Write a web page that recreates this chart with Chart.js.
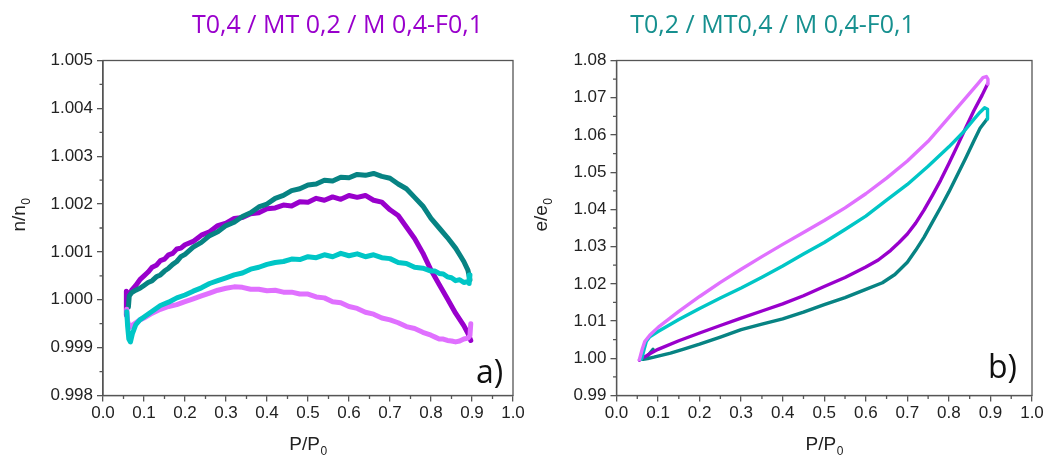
<!DOCTYPE html>
<html><head><meta charset="utf-8">
<script src="https://cdn.jsdelivr.net/npm/chart.js@4.4.1/dist/chart.umd.min.js"></script>
<style>
html,body{margin:0;padding:0;background:#fff;width:1048px;height:457px;overflow:hidden}
.panel{position:absolute;top:0;height:457px}
canvas{display:block}
</style></head><body>
<div class="panel" style="left:0;width:530px"><canvas id="c1" width="530" height="457"></canvas></div>
<div class="panel" style="left:530px;width:518px"><canvas id="c2" width="518" height="457"></canvas></div>
<script>
// ---------- titles / labels ----------
const titles = ['T0,4 / MT 0,2 / M 0,4-F0,1', 'T0,2 / MT0,4 / M 0,4-F0,1'];
const panelLabels = ['a)', 'b)'];
const xAxisTitle = ['P/P', '0'];
const yAxisTitles = [['n/n', '0'], ['e/e', '0']];
const xTickValues = [0.0, 0.1, 0.2, 0.3, 0.4, 0.5, 0.6, 0.7, 0.8, 0.9, 1.0];
const leftYTicks = [0.998, 0.999, 1.000, 1.001, 1.002, 1.003, 1.004, 1.005];
const rightYTicks = [0.99, 1.00, 1.01, 1.02, 1.03, 1.04, 1.05, 1.06, 1.07, 1.08];

// ---------- panel a) n/n0 ----------
const leftPurpleX = [0.057,0.057,0.060,0.065,0.070,0.080,0.090,0.100,0.110,0.120,0.130,0.140,0.150,0.160,0.170,0.180,0.190,0.200,0.220,0.240,0.260,0.280,0.300,0.320,0.340,0.360,0.380,0.400,0.420,0.440,0.460,0.480,0.500,0.520,0.540,0.560,0.580,0.600,0.620,0.640,0.660,0.680,0.700,0.720,0.740,0.760,0.780,0.800,0.820,0.840,0.860,0.880,0.890,0.897];
const leftPurpleY = [0.99968,1.00018,1.00005,1.00012,1.00020,1.00030,1.00042,1.00050,1.00058,1.00068,1.00072,1.00082,1.00085,1.00094,1.00097,1.00106,1.00108,1.00115,1.00122,1.00135,1.00142,1.00155,1.00160,1.00170,1.00172,1.00180,1.00182,1.00190,1.00192,1.00198,1.00196,1.00205,1.00204,1.00212,1.00208,1.00215,1.00210,1.00218,1.00214,1.00218,1.00208,1.00204,1.00188,1.00176,1.00152,1.00128,1.00098,1.00062,1.00032,1.00002,0.99972,0.99946,0.99930,0.99915];

const leftTealX = [0.062,0.064,0.070,0.080,0.090,0.100,0.110,0.120,0.130,0.140,0.150,0.160,0.170,0.180,0.190,0.200,0.220,0.240,0.260,0.280,0.300,0.320,0.340,0.360,0.380,0.400,0.420,0.440,0.460,0.480,0.500,0.520,0.540,0.560,0.580,0.600,0.620,0.640,0.660,0.680,0.700,0.720,0.740,0.760,0.780,0.800,0.820,0.840,0.860,0.870,0.880,0.890,0.895];
const leftTealY = [0.99985,1.00008,1.00015,1.00020,1.00024,1.00030,1.00036,1.00040,1.00048,1.00052,1.00060,1.00066,1.00074,1.00080,1.00090,1.00095,1.00110,1.00120,1.00134,1.00142,1.00155,1.00162,1.00174,1.00182,1.00194,1.00200,1.00212,1.00218,1.00228,1.00232,1.00240,1.00242,1.00250,1.00248,1.00256,1.00255,1.00262,1.00260,1.00264,1.00258,1.00254,1.00242,1.00232,1.00214,1.00196,1.00170,1.00150,1.00130,1.00108,1.00094,1.00080,1.00062,1.00042];

const leftCyanX = [0.895,0.893,0.890,0.880,0.870,0.860,0.850,0.840,0.830,0.820,0.810,0.800,0.780,0.760,0.740,0.720,0.700,0.680,0.660,0.640,0.620,0.600,0.580,0.560,0.540,0.520,0.500,0.480,0.460,0.440,0.420,0.400,0.380,0.360,0.340,0.320,0.300,0.280,0.260,0.240,0.220,0.200,0.180,0.160,0.140,0.120,0.100,0.090,0.080,0.072,0.067,0.063,0.060,0.058];
const leftCyanY = [1.00052,1.00034,1.00038,1.00036,1.00042,1.00040,1.00046,1.00048,1.00054,1.00055,1.00060,1.00060,1.00066,1.00068,1.00076,1.00078,1.00086,1.00088,1.00094,1.00090,1.00096,1.00092,1.00097,1.00090,1.00094,1.00088,1.00090,1.00084,1.00085,1.00080,1.00078,1.00074,1.00068,1.00064,1.00056,1.00052,1.00046,1.00040,1.00034,1.00025,1.00018,1.00010,1.00004,0.99995,0.99988,0.99976,0.99964,0.99958,0.99948,0.99930,0.99912,0.99918,0.99945,0.99975];

const leftVioletX = [0.897,0.895,0.890,0.880,0.870,0.860,0.850,0.840,0.830,0.820,0.810,0.800,0.780,0.760,0.740,0.720,0.700,0.680,0.660,0.640,0.620,0.600,0.580,0.560,0.540,0.520,0.500,0.480,0.460,0.440,0.420,0.400,0.380,0.360,0.340,0.320,0.300,0.280,0.260,0.240,0.220,0.200,0.180,0.160,0.140,0.120,0.100,0.090,0.080,0.070,0.065,0.060,0.058];
const leftVioletY = [0.99950,0.99925,0.99920,0.99918,0.99914,0.99912,0.99914,0.99915,0.99918,0.99918,0.99922,0.99926,0.99932,0.99940,0.99944,0.99952,0.99958,0.99962,0.99970,0.99974,0.99982,0.99986,0.99994,0.99996,1.00004,1.00006,1.00012,1.00012,1.00016,1.00016,1.00020,1.00019,1.00022,1.00022,1.00026,1.00027,1.00024,1.00020,1.00014,1.00008,1.00002,0.99996,0.99990,0.99986,0.99980,0.99972,0.99962,0.99958,0.99952,0.99946,0.99942,0.99955,0.99980];

// ---------- panel b) e/e0 ----------
const rightPurpleX = [0.055,0.060,0.070,0.080,0.100,0.150,0.200,0.250,0.300,0.350,0.400,0.450,0.500,0.550,0.600,0.630,0.660,0.680,0.700,0.720,0.740,0.760,0.780,0.800,0.820,0.840,0.860,0.880,0.893];
const rightPurpleY = [0.9995,1.0000,1.0005,1.0012,1.0024,1.0047,1.0068,1.0088,1.0108,1.0127,1.0146,1.0168,1.0193,1.0217,1.0245,1.0264,1.0290,1.0311,1.0334,1.0363,1.0398,1.0437,1.0478,1.0523,1.0570,1.0618,1.0665,1.0707,1.0737];

const rightVioletX = [0.893,0.894,0.890,0.882,0.870,0.840,0.800,0.750,0.700,0.650,0.600,0.550,0.500,0.450,0.400,0.350,0.300,0.250,0.200,0.150,0.100,0.080,0.068,0.062,0.058,0.055];
const rightVioletY = [1.0737,1.0750,1.0757,1.0754,1.0738,1.0699,1.0647,1.0583,1.0530,1.0484,1.0442,1.0404,1.0370,1.0338,1.0306,1.0273,1.0239,1.0204,1.0166,1.0126,1.0083,1.0062,1.0045,1.0025,1.0008,0.9996];

const rightTealX = [0.088,0.080,0.072,0.064,0.075,0.090,0.100,0.130,0.160,0.200,0.250,0.300,0.350,0.400,0.450,0.500,0.550,0.600,0.640,0.670,0.700,0.720,0.740,0.760,0.780,0.800,0.820,0.840,0.860,0.875,0.892];
const rightTealY = [1.0024,1.0013,1.0004,0.9997,0.9999,1.0003,1.0006,1.0014,1.0024,1.0038,1.0057,1.0077,1.0092,1.0106,1.0124,1.0144,1.0163,1.0185,1.0203,1.0225,1.0258,1.0290,1.0325,1.0365,1.0405,1.0447,1.0492,1.0537,1.0584,1.0618,1.0643];

const rightCyanX = [0.892,0.894,0.892,0.886,0.875,0.860,0.835,0.800,0.750,0.700,0.650,0.600,0.550,0.500,0.450,0.400,0.350,0.300,0.250,0.200,0.150,0.100,0.080,0.072,0.066,0.062,0.060];
const rightCyanY = [1.0643,1.0658,1.0669,1.0673,1.0661,1.0642,1.0608,1.0568,1.0516,1.0467,1.0425,1.0382,1.0346,1.0311,1.0280,1.0248,1.0218,1.0189,1.0162,1.0134,1.0104,1.0072,1.0058,1.0046,1.0022,1.0004,0.9998];

// ---------- styling ----------
const PURPLE = '#9900CC', TEAL = '#078383', CYAN = '#00C6C6', VIOLET = '#E070FF';
const AXIS = '#555555';
const TICKFONT = '"Liberation Sans", Arial, sans-serif';

function pts(xs, ys) { return xs.map((x, i) => ({ x: x, y: ys[i] })); }
function ds(xs, ys, color, w) {
  return { data: pts(xs, ys), borderColor: color, backgroundColor: color, borderWidth: w,
    pointRadius: 0, tension: 0, fill: false, borderJoinStyle: 'round', borderCapStyle: 'round' };
}

function drawSub(ctx, main, sub, cx, baseY, fs, ss) {
  ctx.font = fs + 'px ' + TICKFONT; const w1 = ctx.measureText(main).width;
  ctx.font = ss + 'px ' + TICKFONT; const w2 = ctx.measureText(sub).width;
  const x0 = cx - (w1 + w2) / 2;
  ctx.textAlign = 'left'; ctx.textBaseline = 'alphabetic';
  ctx.font = fs + 'px ' + TICKFONT; ctx.fillText(main, x0, baseY);
  ctx.font = ss + 'px ' + TICKFONT; ctx.fillText(sub, x0 + w1 + 0.5, baseY + 5);
}

const decor = {
  id: 'decor',
  afterDraw(chart, args, o) {
    const ctx = chart.ctx, a = chart.chartArea, xs = chart.scales.x, ys = chart.scales.y;
    ctx.save();
    // frame
    ctx.strokeStyle = AXIS; ctx.lineWidth = 1.3;
    ctx.strokeRect(a.left, a.top, a.right - a.left, a.bottom - a.top);
    // minor ticks
    ctx.beginPath();
    for (let k = 0; k < o.xMajors.length - 1; k++) {
      const px = xs.getPixelForValue((o.xMajors[k] + o.xMajors[k + 1]) / 2);
      ctx.moveTo(px, a.bottom); ctx.lineTo(px, a.bottom + 3.5);
    }
    for (let k = 0; k < o.yMajors.length - 1; k++) {
      const py = ys.getPixelForValue((o.yMajors[k] + o.yMajors[k + 1]) / 2);
      ctx.moveTo(a.left, py); ctx.lineTo(a.left - 3.5, py);
    }
    ctx.stroke();
    // title
    ctx.fillStyle = o.titleColor; ctx.font = '25px "Open Sans", sans-serif';
    ctx.textAlign = 'center'; ctx.textBaseline = 'alphabetic';
    ctx.fillText(o.title, o.titleX, 33);
    // panel label
    ctx.fillStyle = '#111'; ctx.font = '32px "Open Sans", sans-serif'; ctx.textAlign = 'left';
    ctx.fillText(o.panel, o.panelX, o.panelY);
    // axis titles
    ctx.fillStyle = '#222';
    drawSub(ctx, xAxisTitle[0], xAxisTitle[1], (a.left + a.right) / 2, 450, 19, 12);
    ctx.translate(o.yTitleX, 215); ctx.rotate(-Math.PI / 2);
    drawSub(ctx, o.yTitle[0], o.yTitle[1], 0, 0, 19, 12);
    ctx.restore();
  }
};

function makeChart(id, datasets, yMin, yMax, yStep, yDec, yWidth, padRight, deco) {
  return new Chart(document.getElementById(id), {
    type: 'line',
    data: { datasets: datasets },
    plugins: [decor],
    options: {
      responsive: false, animation: false, devicePixelRatio: 1,
      layout: { padding: { left: 0, right: padRight, top: 60.5, bottom: 0 } },
      plugins: { legend: { display: false }, tooltip: { enabled: false }, title: { display: false }, decor: deco },
      scales: {
        x: {
          type: 'linear', min: 0, max: 1,
          afterBuildTicks: s => { s.ticks = xTickValues.map(v => ({ value: v })); },
          afterFit: s => { s.height = 457 - 395.5; },
          ticks: { callback: v => Number(v).toFixed(1), font: { family: TICKFONT, size: 17 }, color: '#222', padding: 2, maxRotation: 0, autoSkip: false },
          grid: { display: true, drawOnChartArea: false, drawTicks: true, tickLength: 6, color: AXIS, lineWidth: 1.3 },
          border: { display: true, color: AXIS, width: 1.3 }
        },
        y: {
          type: 'linear', min: yMin, max: yMax,
          afterBuildTicks: s => { s.ticks = deco.yMajors.map(v => ({ value: v })); },
          afterFit: s => { s.width = yWidth; },
          ticks: { callback: v => Number(v).toFixed(yDec), font: { family: TICKFONT, size: 17 }, color: '#222', padding: 4, autoSkip: false },
          grid: { display: true, drawOnChartArea: false, drawTicks: true, tickLength: 6, color: AXIS, lineWidth: 1.3 },
          border: { display: true, color: AXIS, width: 1.3 }
        }
      }
    }
  });
}

function build() {
  makeChart('c1', [
    ds(leftCyanX, leftCyanY, CYAN, 5),
    ds(leftVioletX, leftVioletY, VIOLET, 5),
    ds(leftTealX, leftTealY, TEAL, 5),
    ds(leftPurpleX, leftPurpleY, PURPLE, 5)
  ], 0.998, 1.005, 0.001, 3, 103, 17, {
    title: titles[0], titleColor: PURPLE, titleX: 337.5, panel: panelLabels[0], panelX: 476, panelY: 383,
    yTitle: yAxisTitles[0], yTitleX: 25, xMajors: xTickValues, yMajors: leftYTicks
  });
  makeChart('c2', [
    ds(rightVioletX, rightVioletY, VIOLET, 3.4),
    ds(rightCyanX, rightCyanY, CYAN, 3.4),
    ds(rightPurpleX, rightPurpleY, PURPLE, 3.4),
    ds(rightTealX, rightTealY, TEAL, 3.4)
  ], 0.99, 1.08, 0.01, 2, 86.5, 16, {
    title: titles[1], titleColor: '#16908F', titleX: 242.5, panel: panelLabels[1], panelX: 458, panelY: 378,
    yTitle: yAxisTitles[1], yTitleX: 17, xMajors: xTickValues, yMajors: rightYTicks
  });
}
if (document.fonts && document.fonts.load) {
  Promise.all([document.fonts.load('25px "Open Sans"'), document.fonts.load('17px "Liberation Sans"')]).then(build, build);
} else { build(); }
</script>
</body></html>
